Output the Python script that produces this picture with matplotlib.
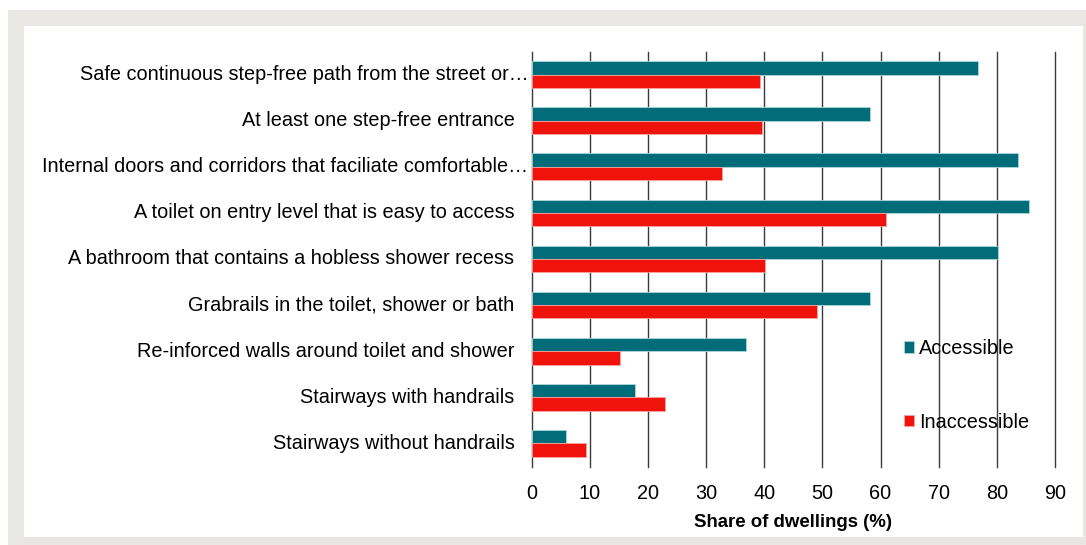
import numpy as np
import matplotlib
matplotlib.use("Agg")
import matplotlib.pyplot as plt
from matplotlib.patches import Rectangle
from matplotlib.transforms import offset_copy

plt.rcParams['font.family'] = ['Liberation Sans', 'DejaVu Sans']

categories = [
    "Safe continuous step-free path from the street or\u2026",
    "At least one step-free entrance",
    "Internal doors and corridors that faciliate comfortable\u2026",
    "A toilet on entry level that is easy to access",
    "A bathroom that contains a hobless shower recess",
    "Grabrails in the toilet, shower or bath",
    "Re-inforced walls around toilet and shower",
    "Stairways with handrails",
    "Stairways without handrails",
]
accessible = [76.8, 58.2, 83.7, 85.6, 80.2, 58.2, 36.9, 17.8, 6.0]
inaccessible = [39.2, 39.6, 32.8, 61.0, 40.2, 49.1, 15.3, 23.0, 9.4]
xticks = [0, 10, 20, 30, 40, 50, 60, 70, 80, 90]

teal = '#026c79'
red = '#ef130c'
fs = 14.3

fig = plt.figure(figsize=(10.86, 5.45), dpi=100)
fig.patch.set_facecolor('white')

# grey frame and white panel (pixel coords -> fig fraction)
W, H = 1086, 545
fig.patches.append(Rectangle((8 / W, 0), 1 - 8 / W, 1 - 10 / H, transform=fig.transFigure,
                             facecolor='#e8e7e3', edgecolor='none', zorder=-2))
fig.patches.append(Rectangle((24 / W, 8 / H), (1083 - 24) / W, (537 - 26) / H,
                             transform=fig.transFigure, facecolor='white',
                             edgecolor='none', zorder=-1))

ax = fig.add_axes([531.5 / W, 1 - 466.5 / H, (1055 - 531.5) / W, (466.5 - 51.5) / H])
ax.set_facecolor('none')

y = np.arange(len(categories))
h = 0.29
ax.barh(y - h / 2, accessible, height=h, color=teal, edgecolor='#a8d8de', linewidth=0.6,
        label='Accessible', zorder=3)
ax.barh(y + h / 2, inaccessible, height=h, color=red, edgecolor='#f6a4a0', linewidth=0.6,
        label='Inaccessible', zorder=3)

ax.set_ylim(len(categories) - 0.5, -0.5)
ax.set_xlim(0, 90)
ax.set_xticks(xticks)
ax.set_xticklabels([str(t) for t in xticks], fontsize=fs)
ax.tick_params(axis='x', length=0, pad=12.5)
ax.set_yticks([])
for t in xticks:
    ax.axvline(t, color='#3a3a3a', linewidth=1, zorder=1, clip_on=False)
for s in ax.spines.values():
    s.set_visible(False)

# category labels: truncated ones sit close to the axis
for i, lab in enumerate(categories):
    pad = -3 if lab.endswith('\u2026') else -17
    tr = offset_copy(ax.get_yaxis_transform(), fig=fig, x=pad, y=0, units='dots')
    ax.text(0, i, lab, transform=tr, ha='right', va='center', fontsize=fs)

ax.set_xlabel('Share of dwellings (%)', fontsize=13.4, fontweight='bold', labelpad=8)

ax.legend(loc='upper left', bbox_to_anchor=(904 / W, 1 - 339 / H),
          bbox_transform=fig.transFigure, frameon=False, fontsize=fs,
          handlelength=0.52, handleheight=0.52, handletextpad=0.22,
          labelspacing=2.75, borderpad=0, borderaxespad=0)

fig.savefig('out.png', dpi=100)
